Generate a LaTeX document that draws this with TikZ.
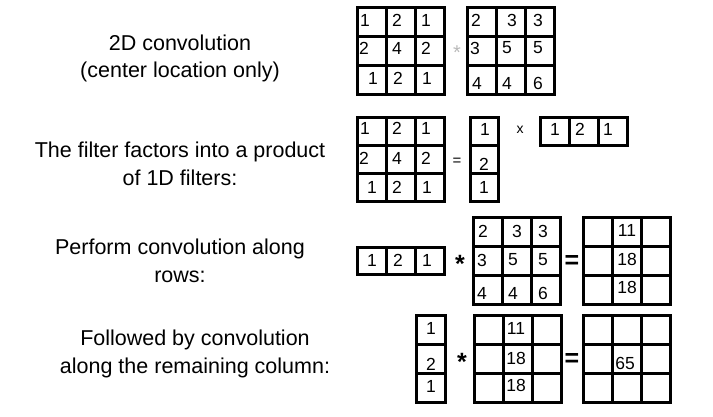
\documentclass[tikz,border=0pt]{standalone}
\usepackage{fontspec}
\setmainfont{Liberation Sans}
\usepackage{tikz}

\tikzset{
    cell/.style={draw, line width=3pt, inner sep=0pt},
    num/.style={inner sep=0pt, font=\fontsize{17.5}{17.5}\selectfont},
    caption/.style={align=center, inner sep=0pt, font=\fontsize{21.5}{27.5}\selectfont},
    boldop/.style={inner sep=0pt, anchor=north, font=\bfseries\fontsize{25}{25}\selectfont},
    thinop/.style={inner sep=0pt, font=\fontsize{15}{15}\selectfont}
}

\begin{document}
\begin{tikzpicture}[x=1pt, y=-1pt]
    \useasboundingbox (0,0) rectangle (713,416);

    % Labels
    \node[caption] (t1) at (180,58.5) {2D convolution\\(center location only)};
    \node[caption] (t2) at (180,164) {The filter factors into a product\\of 1D filters:};
    \node[caption] (t3) at (180,261) {Perform convolution along\\rows:};
    \node[caption] (t4) at (195,354) {Followed by convolution\\along the remaining column:};

    % Draw cells
    \foreach \m/\X/\Y/\R/\C/\w/\h in {F1/357/7/3/3/29/29, I1/467/7/3/3/29/29,
        F2/357/117/3/3/29/28.3, C2/470/117/3/1/28/28.3, R2/540/117/1/3/29/28,
        R3/357/247/1/3/29/27, I3/473/217/3/3/29/29, O3/583/217/3/3/29/29,
        C4/416/315/3/1/29/29, M4/474/315/3/3/29/29, O4/583/315/3/3/29/29}
        \foreach \r in {1,...,\R}
            \foreach \c in {1,...,\C}
                \node[cell, minimum width=\w pt, minimum height=\h pt]
                    (\m-\r\c) at ({\X+\w*(\c-0.5)},{\Y+\h*(\r-0.5)}) {};

    % Draw numbers
    \foreach \x/\y/\t [count=\i] in {
        365/20/1, 397/20/2, 426/20/1, 364/48/2, 397/48/4, 426/48/2, 373/78/1, 398/78/2, 427/78/1,
        476/20/2, 512/20/3, 538/20/3, 475/48/3, 507/48/5, 538/48/5, 477/83/4, 507/83/4, 538/83/6,
        365/128/1, 397/128/2, 426/128/1, 364/158/2, 397/158/4, 426/158/2, 372/187/1, 397/187/2, 427/187/1,
        485/129/1, 484/164/2, 484/187/1, 555/129/1, 580/129/2, 608/129/1,
        372/260/1, 398/260/2, 427/260/1,
        483/231/2, 517/231/3, 543/231/3, 482/260/3, 513/260/5, 543/260/5, 482/293/4, 513/293/4, 543/293/6,
        627/230/11, 627/259/18, 627/287/18,
        431/328/1, 431/364/2, 431/386/1,
        516/328/11, 516/358/18, 516/385/18,
        625/363/65}
        \node[num] (n\i) at (\x,\y) {\t};

    % Operators
    \node[thinop, anchor=north, text=gray!55, font=\fontsize{20}{20}\selectfont] (op1) at (457,46) {*};
    \node[thinop, anchor=north] (op2) at (457,157.5) {=};
    \node[thinop, font=\fontsize{14}{14}\selectfont] (op3) at (520,130) {x};
    \node[boldop] (op4) at (460,255) {*};
    \node[boldop] (op5) at (462,353) {*};
    \node[boldop] (op6) at (572,255) {=};
    \node[boldop] (op7) at (572,353.5) {=};
\end{tikzpicture}
\end{document}
